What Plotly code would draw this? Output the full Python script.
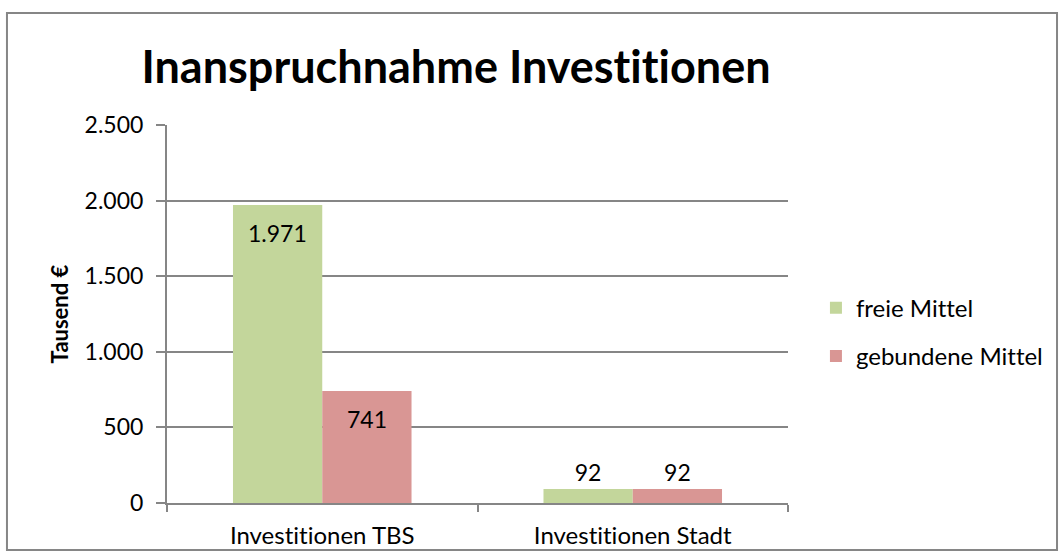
import plotly.graph_objects as go

# data (Tausend €)
categories = ['Investitionen TBS', 'Investitionen Stadt']
freie_mittel = [1971, 92]
gebundene_mittel = [741, 92]
y_ticks = [0, 500, 1000, 1500, 2000, 2500]

FONT = 'Lato'
GRID = '#868686'
INSIDE_MIN = 300  # labels of taller bars sit inside, below the top

fig = go.Figure()

series = [
    ('freie Mittel', freie_mittel, '#C3D69B', -44.7),
    ('gebundene Mittel', gebundene_mittel, '#D99694', 44.7),
]

for name, values, color, shift in series:
    fig.add_trace(go.Bar(
        x=categories,
        y=values,
        name=name,
        marker=dict(color=color, line=dict(width=0)),
        texttemplate='%{y:,}',
        textposition=['none' if v >= INSIDE_MIN else 'outside' for v in values],
        textfont=dict(family=FONT, size=23, color='black'),
        cliponaxis=False,
        legendgroup=name
    ))
    # labels drawn inside the bar, a bit below its top (as Excel does)
    for cat, v in zip(categories, values):
        if v >= INSIDE_MIN:
            fig.add_annotation(x=cat, y=v, text=f'{v:,}'.replace(',', '.'),
                               showarrow=False, xshift=shift, yshift=-28,
                               yanchor='middle',
                               font=dict(family=FONT, size=23, color='black'))

# outer chart border
fig.add_shape(type='rect', xref='paper', yref='paper',
              x0=-0.2577, x1=1.4332, y0=-0.1243, y1=1.2963,
              line=dict(color=GRID, width=2), layer='below')

fig.update_layout(
    width=1064, height=560,
    margin=dict(l=167, r=276, t=125, b=57),
    paper_bgcolor='white', plot_bgcolor='white',
    separators=',.',
    barmode='group', bargap=0.425, bargroupgap=0,
    font=dict(family=FONT, size=23, color='black'),
    title=dict(text='<b>Inanspruchnahme Investitionen</b>',
               font=dict(family=FONT, size=45, color='black'),
               x=0.4286, xanchor='center', xref='container',
               y=0.88, yanchor='middle', yref='container'),
    legend=dict(x=1.045, y=0.452, xanchor='left', yanchor='middle',
                font=dict(family=FONT, size=24),
                tracegroupgap=14, bgcolor='rgba(0,0,0,0)'),
    showlegend=True
)

fig.update_xaxes(
    showline=True, linecolor=GRID, linewidth=2,
    ticks='outside', tickson='boundaries', ticklen=7, tickcolor=GRID, tickwidth=2,
    showgrid=False, tickfont=dict(family=FONT, size=24), ticklabelstandoff=10
)

fig.update_yaxes(
    range=[0, 2500], tickvals=y_ticks, tickformat=',d',
    showline=True, linecolor=GRID, linewidth=2,
    ticks='outside', ticklen=9, tickcolor=GRID, tickwidth=2,
    showgrid=True, gridcolor=GRID, gridwidth=1.5, zeroline=False,
    tickfont=dict(family=FONT, size=23), ticklabelstandoff=8,
    title=dict(text='<b>Tausend €</b>', font=dict(family=FONT, size=22), standoff=10)
)

# no page margin, and no "ti" ligatures (the reference draws plain letters)
page_css = (
    "var s=document.createElement('style');"
    "s.textContent='body{margin:0!important} text{font-variant-ligatures:none!important}';"
    "document.head.appendChild(s);"
)

fig.write_html('out.html', post_script=page_css, config={'displayModeBar': False})
